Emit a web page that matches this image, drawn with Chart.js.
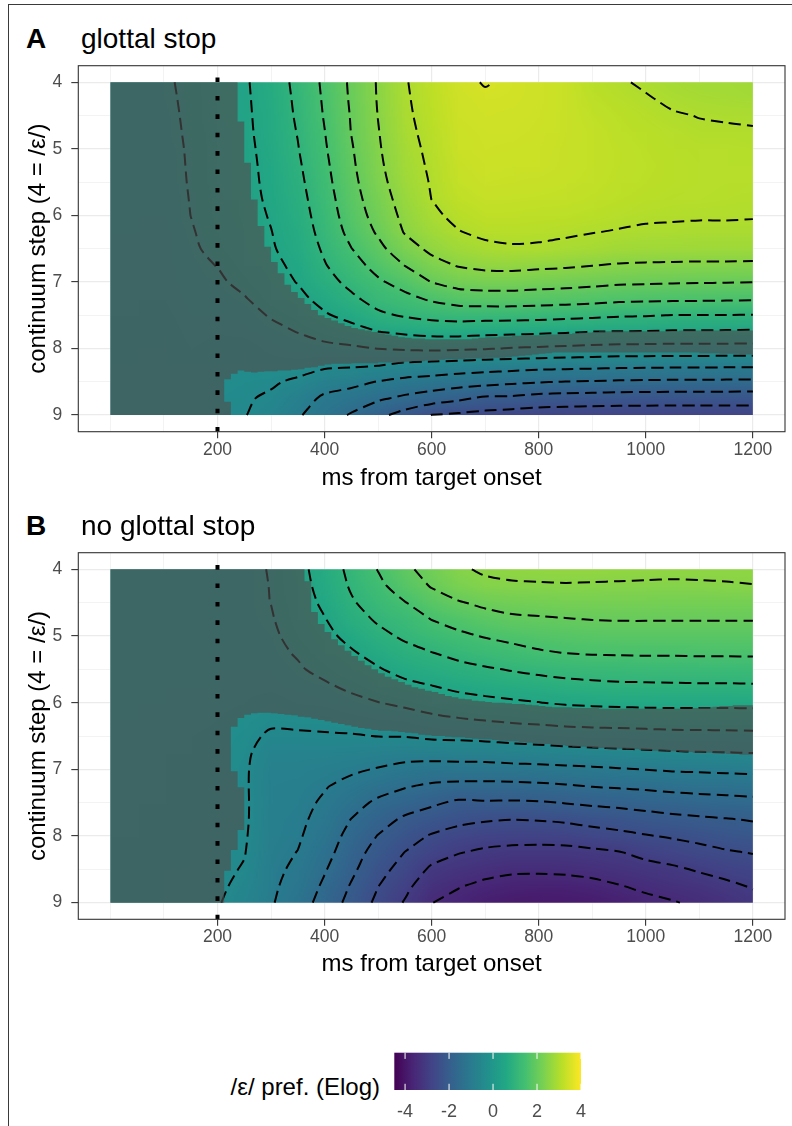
<!DOCTYPE html>
<html>
<head>
<meta charset="utf-8">
<script src="https://cdn.jsdelivr.net/npm/chart.js@4.4.1/dist/chart.umd.min.js"></script>
<style>
  html, body { margin: 0; padding: 0; background: #fff; }
  body { width: 792px; height: 1126px; position: relative; overflow: hidden;
         font-family: 'Liberation Sans', Arial, Helvetica, sans-serif; }
  .frame { position: absolute; left: 8px; top: 4px; width: 900px; height: 1300px;
           border-left: 1.5px solid #3a3a3a; border-top: 1.5px solid #3a3a3a; }
  canvas { position: absolute; left: 0; }
  .tag, .title, .legend-title { position: absolute; line-height: 1; color: #000; white-space: nowrap; }
  .tag { font-weight: bold; font-size: 28px; }
  .title { font-size: 28px; }
  .legend-title { font-size: 24px; text-align: right; }
</style>
</head>
<body>
<div class="frame"></div>

<div class="tag" style="left:26px; top:24.6px">A</div>
<div class="title" style="left:81px; top:24.6px">glottal stop</div>
<canvas id="panel-a" width="792" height="500" style="top:0"></canvas>

<div class="tag" style="left:26px; top:511.6px">B</div>
<div class="title" style="left:81px; top:511.6px">no glottal stop</div>
<canvas id="panel-b" width="792" height="500" style="top:486px"></canvas>

<div class="legend-title" style="right:412px; top:1074.7px">/ε/ pref. (Elog)</div>
<canvas id="colorbar" width="220" height="86" style="left:380px; top:1040px"></canvas>

<script>
// ============================================
// Elog preference surfaces (time x continuum step)
// ============================================

// model grid
const timeMs = [0, 50, 100, 150, 200, 250, 300, 350, 400, 450, 500, 550, 600,
                650, 700, 750, 800, 850, 900, 950, 1000, 1050, 1100, 1150, 1200];
const steps = [4, 4.25, 4.5, 4.75, 5, 5.25, 5.5, 5.75, 6, 6.25, 6.5, 6.75, 7,
               7.25, 7.5, 7.75, 8, 8.25, 8.5, 8.75, 9];

// /ε/ preference, one array per time point, step 4 (top) -> step 9 (bottom)
const prefGlottal = [
  [-0.12,-0.12,-0.13,-0.13,-0.14,-0.15,-0.16,-0.17,-0.18,-0.19,-0.20,-0.21,-0.22,-0.23,-0.25,-0.27,-0.29,-0.31,-0.33,-0.35,-0.37],
  [-0.10,-0.11,-0.12,-0.13,-0.14,-0.15,-0.16,-0.17,-0.18,-0.19,-0.20,-0.21,-0.22,-0.24,-0.26,-0.28,-0.30,-0.32,-0.34,-0.36,-0.38],
  [-0.06,-0.08,-0.10,-0.12,-0.15,-0.16,-0.17,-0.18,-0.19,-0.20,-0.21,-0.22,-0.24,-0.26,-0.28,-0.30,-0.32,-0.34,-0.36,-0.38,-0.40],
  [0.09,0.08,0.07,0.06,0.05,0.04,0.03,0.015,0.002,-0.03,-0.06,-0.09,-0.12,-0.15,-0.18,-0.22,-0.26,-0.30,-0.34,-0.38,-0.42],
  [0.27,0.26,0.24,0.23,0.22,0.21,0.20,0.19,0.17,0.14,0.10,0.01,-0.07,-0.13,-0.19,-0.24,-0.29,-0.33,-0.37,-0.41,-0.45],
  [0.44,0.43,0.42,0.41,0.39,0.38,0.37,0.36,0.34,0.31,0.28,0.20,0.11,-0.03,-0.13,-0.22,-0.30,-0.36,-0.41,-0.45,-0.48],
  [0.74,0.71,0.69,0.67,0.65,0.62,0.60,0.57,0.53,0.49,0.46,0.39,0.31,0.21,0.03,-0.10,-0.22,-0.33,-0.44,-0.57,-0.68],
  [1.12,1.09,1.06,1.02,0.98,0.93,0.88,0.83,0.78,0.73,0.67,0.60,0.52,0.38,0.22,0.01,-0.15,-0.30,-0.58,-0.80,-0.95],
  [1.59,1.56,1.53,1.49,1.45,1.40,1.35,1.29,1.23,1.16,1.07,0.97,0.82,0.65,0.45,0.17,-0.12,-0.41,-0.80,-1.08,-1.24],
  [2.08,2.06,2.03,2.01,1.96,1.92,1.87,1.81,1.74,1.64,1.49,1.30,1.13,0.91,0.64,0.33,-0.08,-0.44,-0.87,-1.22,-1.55],
  [2.54,2.53,2.51,2.48,2.45,2.41,2.35,2.27,2.18,2.06,1.87,1.67,1.43,1.19,0.91,0.49,0.01,-0.48,-1.02,-1.43,-1.87],
  [2.97,2.95,2.93,2.90,2.86,2.82,2.77,2.70,2.62,2.53,2.30,2.01,1.69,1.37,1.05,0.58,0.06,-0.61,-1.13,-1.60,-2.19],
  [3.20,3.18,3.15,3.12,3.09,3.06,3.03,3.005,2.91,2.78,2.60,2.34,2.01,1.57,1.15,0.65,0.09,-0.66,-1.19,-1.75,-2.51],
  [3.42,3.40,3.38,3.36,3.34,3.31,3.27,3.20,3.11,2.98,2.78,2.53,2.20,1.72,1.20,0.66,0.07,-0.71,-1.27,-1.91,-2.58],
  [3.52,3.45,3.42,3.40,3.38,3.36,3.33,3.28,3.20,3.09,2.90,2.61,2.25,1.77,1.19,0.62,0.03,-0.76,-1.33,-2.09,-2.65],
  [3.45,3.43,3.41,3.39,3.37,3.35,3.32,3.27,3.20,3.10,2.96,2.63,2.25,1.77,1.19,0.60,-0.03,-0.78,-1.41,-2.10,-2.72],
  [3.40,3.39,3.38,3.37,3.36,3.34,3.31,3.26,3.18,3.08,2.95,2.59,2.21,1.74,1.17,0.57,-0.06,-0.82,-1.47,-2.19,-2.76],
  [3.32,3.32,3.32,3.32,3.31,3.30,3.28,3.24,3.16,3.06,2.89,2.56,2.18,1.71,1.13,0.54,-0.10,-0.84,-1.51,-2.22,-2.78],
  [3.13,3.18,3.22,3.25,3.26,3.26,3.24,3.20,3.13,3.01,2.86,2.51,2.13,1.67,1.10,0.49,-0.13,-0.86,-1.53,-2.24,-2.80],
  [3.04,3.10,3.15,3.18,3.20,3.20,3.19,3.15,3.08,2.98,2.80,2.46,2.08,1.62,1.05,0.48,-0.16,-0.88,-1.56,-2.26,-2.80],
  [2.95,3.03,3.09,3.13,3.15,3.16,3.15,3.12,3.05,2.95,2.78,2.44,2.06,1.60,1.03,0.47,-0.17,-0.89,-1.57,-2.27,-2.80],
  [2.88,2.94,3.03,3.08,3.11,3.12,3.12,3.09,3.04,2.94,2.77,2.43,2.04,1.59,0.99,0.45,-0.18,-0.90,-1.58,-2.28,-2.80],
  [2.84,2.90,2.99,3.05,3.09,3.10,3.10,3.08,3.03,2.93,2.76,2.42,2.03,1.58,0.99,0.45,-0.18,-0.90,-1.58,-2.28,-2.80],
  [2.82,2.88,2.97,3.04,3.08,3.09,3.09,3.07,3.03,2.93,2.76,2.42,2.02,1.57,0.99,0.44,-0.18,-0.91,-1.59,-2.28,-2.79],
  [2.80,2.87,2.95,3.03,3.07,3.08,3.08,3.06,3.02,2.93,2.76,2.41,2.01,1.56,0.98,0.43,-0.19,-0.91,-1.60,-2.29,-2.78]
];

const prefNoGlottal = [
  [-0.12,-0.12,-0.13,-0.13,-0.14,-0.14,-0.15,-0.15,-0.16,-0.17,-0.18,-0.19,-0.20,-0.21,-0.22,-0.23,-0.24,-0.25,-0.26,-0.27,-0.28],
  [-0.12,-0.12,-0.13,-0.14,-0.14,-0.15,-0.16,-0.17,-0.18,-0.19,-0.20,-0.21,-0.22,-0.23,-0.24,-0.25,-0.26,-0.27,-0.28,-0.29,-0.30],
  [-0.11,-0.12,-0.13,-0.14,-0.15,-0.16,-0.17,-0.18,-0.19,-0.20,-0.22,-0.23,-0.24,-0.25,-0.26,-0.27,-0.28,-0.29,-0.31,-0.32,-0.34],
  [-0.10,-0.11,-0.12,-0.13,-0.15,-0.16,-0.18,-0.19,-0.21,-0.22,-0.24,-0.25,-0.27,-0.28,-0.29,-0.30,-0.32,-0.33,-0.35,-0.37,-0.40],
  [-0.10,-0.10,-0.11,-0.12,-0.13,-0.15,-0.17,-0.19,-0.21,-0.24,-0.27,-0.30,-0.32,-0.33,-0.34,-0.35,-0.36,-0.38,-0.40,-0.43,-0.47],
  [-0.09,-0.10,-0.11,-0.12,-0.14,-0.16,-0.19,-0.22,-0.26,-0.31,-0.37,-0.42,-0.44,-0.44,-0.43,-0.43,-0.45,-0.48,-0.53,-0.60,-0.68],
  [0.02,0.01,0.005,-0.03,-0.07,-0.11,-0.16,-0.22,-0.30,-0.41,-0.57,-0.70,-0.77,-0.80,-0.82,-0.84,-0.86,-0.88,-0.90,-0.93,-0.96],
  [0.35,0.31,0.26,0.20,0.13,0.04,-0.05,-0.15,-0.26,-0.39,-0.56,-0.70,-0.78,-0.83,-0.87,-0.91,-0.95,-1.01,-1.08,-1.16,-1.26],
  [0.72,0.67,0.59,0.48,0.37,0.25,0.12,-0.06,-0.21,-0.37,-0.54,-0.72,-0.86,-0.97,-1.06,-1.14,-1.23,-1.33,-1.46,-1.58,-1.69],
  [1.12,1.05,0.95,0.81,0.64,0.45,0.28,0.09,-0.12,-0.32,-0.53,-0.73,-0.93,-1.13,-1.32,-1.51,-1.66,-1.79,-1.90,-2.04,-2.16],
  [1.52,1.38,1.22,1.06,0.88,0.68,0.46,0.24,-0.01,-0.25,-0.49,-0.77,-1.03,-1.30,-1.59,-1.80,-2.02,-2.19,-2.34,-2.49,-2.61],
  [1.90,1.75,1.48,1.25,1.07,0.86,0.66,0.38,0.09,-0.20,-0.48,-0.82,-1.13,-1.46,-1.75,-2.08,-2.32,-2.51,-2.68,-2.87,-3.04],
  [2.18,2.03,1.78,1.51,1.26,0.99,0.76,0.49,0.20,-0.10,-0.42,-0.80,-1.19,-1.57,-1.92,-2.24,-2.54,-2.80,-3.08,-3.32,-3.49],
  [2.45,2.29,1.96,1.67,1.41,1.12,0.87,0.61,0.31,-0.03,-0.40,-0.79,-1.18,-1.62,-2.08,-2.37,-2.70,-2.98,-3.24,-3.47,-3.65],
  [2.55,2.42,2.10,1.81,1.53,1.25,0.95,0.67,0.39,0.03,-0.37,-0.77,-1.18,-1.63,-2.05,-2.45,-2.78,-3.09,-3.35,-3.60,-3.80],
  [2.60,2.45,2.17,1.92,1.62,1.35,1.03,0.74,0.44,0.09,-0.32,-0.73,-1.15,-1.62,-2.06,-2.49,-2.82,-3.14,-3.42,-3.68,-3.88],
  [2.62,2.46,2.20,1.95,1.70,1.45,1.11,0.79,0.49,0.13,-0.28,-0.70,-1.13,-1.59,-2.04,-2.47,-2.83,-3.15,-3.42,-3.72,-3.92],
  [2.63,2.47,2.22,1.98,1.74,1.51,1.17,0.85,0.55,0.17,-0.23,-0.66,-1.10,-1.54,-1.98,-2.42,-2.80,-3.15,-3.40,-3.70,-3.90],
  [2.63,2.46,2.22,2.01,1.78,1.54,1.21,0.89,0.58,0.20,-0.21,-0.63,-1.07,-1.48,-1.92,-2.33,-2.71,-3.10,-3.35,-3.63,-3.85],
  [2.62,2.45,2.22,2.02,1.79,1.55,1.23,0.92,0.60,0.22,-0.20,-0.60,-1.03,-1.44,-1.87,-2.27,-2.62,-3.03,-3.27,-3.52,-3.75],
  [2.61,2.44,2.22,2.02,1.80,1.56,1.24,0.93,0.61,0.24,-0.18,-0.57,-0.99,-1.40,-1.81,-2.19,-2.53,-2.87,-3.17,-3.41,-3.62],
  [2.60,2.43,2.21,2.02,1.80,1.56,1.24,0.94,0.62,0.25,-0.15,-0.54,-0.95,-1.35,-1.75,-2.12,-2.45,-2.76,-3.08,-3.32,-3.53],
  [2.59,2.45,2.21,2.02,1.80,1.57,1.25,0.95,0.62,0.25,-0.14,-0.52,-0.93,-1.32,-1.70,-2.07,-2.37,-2.65,-2.95,-3.22,-3.42],
  [2.58,2.47,2.21,2.02,1.80,1.57,1.25,0.95,0.62,0.25,-0.13,-0.51,-0.91,-1.29,-1.67,-2.02,-2.28,-2.55,-2.83,-3.10,-3.30],
  [2.58,2.49,2.21,2.02,1.80,1.57,1.26,0.96,0.62,0.26,-0.12,-0.49,-0.89,-1.26,-1.63,-1.97,-2.21,-2.48,-2.72,-2.96,-3.15]
];

// non-significant regions: one entry per 12.5 ms column, pairs of [from step, to step]
const maskColMs = 12.5;
const nsGlottal = [
  [4,9],[4,9],[4,9],[4,9],[4,9],[4,9],[4,9],[4,9],[4,9],[4,9],[4,9],[4,9],
  [4,9],[4,9],[4,9],[4,9],[4,9],[4,8.46,8.8,9],[4,8.38],[4.59,8.33],
  [5.21,8.35],[5.76,8.36],[6.16,8.35],[6.47,8.34],[6.70,8.34],[6.87,8.33],[7.04,8.33],[7.15,8.32],
  [7.24,8.31],[7.33,8.29],[7.42,8.28],[7.50,8.26],[7.54,8.24],[7.58,8.23],[7.62,8.23],[7.66,8.23],
  [7.69,8.22],[7.71,8.22],[7.73,8.22],[7.75,8.22],[7.77,8.21],[7.79,8.21],[7.81,8.21],[7.83,8.21],
  [7.84,8.20],[7.85,8.19],[7.85,8.19],[7.86,8.18],[7.86,8.18],[7.86,8.17],[7.86,8.16],[7.86,8.16],
  [7.86,8.16],[7.86,8.15],[7.85,8.15],[7.84,8.15],[7.83,8.14],[7.83,8.14],[7.82,8.14],[7.82,8.13],
  [7.81,8.12],[7.81,8.11],[7.80,8.10],[7.80,8.09],[7.80,8.08],[7.79,8.07],[7.79,8.06],[7.78,8.06],
  [7.78,8.06],[7.77,8.06],[7.76,8.06],[7.76,8.06],[7.75,8.06],[7.74,8.06],[7.74,8.06],[7.74,8.06],
  [7.74,8.06],[7.74,8.06],[7.74,8.06],[7.74,8.06],[7.74,8.06],[7.74,8.06],[7.74,8.06],[7.74,8.06],
  [7.74,8.06],[7.73,8.06],[7.73,8.06],[7.73,8.06],[7.73,8.07],[7.73,8.07],[7.73,8.07],[7.73,8.08],
  [7.73,8.08],[7.73,8.08],[7.73,8.09],[7.73,8.09]
];
const nsNoGlottal = [
  [4,9],[4,9],[4,9],[4,9],[4,9],[4,9],[4,9],[4,9],[4,9],[4,9],[4,9],[4,9],
  [4,9],[4,9],[4,9],[4,9],[4,9],[4,8.52],[4,6.36,7.03,8.21],[4,6.23,7.27,7.91],
  [4,6.18],[4,6.16],[4,6.15],[4,6.15],[4,6.16],[4,6.17],[4,6.18],[4,6.19],
  [4,6.21],[4.18,6.22],[4.64,6.24],[4.82,6.26],[4.94,6.28],[5.05,6.30],[5.14,6.32],[5.22,6.34],
  [5.30,6.36],[5.37,6.38],[5.44,6.39],[5.50,6.41],[5.56,6.42],[5.61,6.42],[5.65,6.43],[5.69,6.44],
  [5.73,6.45],[5.77,6.46],[5.79,6.48],[5.82,6.49],[5.84,6.50],[5.87,6.50],[5.90,6.51],[5.92,6.52],
  [5.94,6.52],[5.95,6.53],[5.97,6.54],[5.98,6.55],[5.99,6.55],[6.00,6.56],[6.00,6.57],[6.01,6.58],
  [6.02,6.58],[6.02,6.59],[6.03,6.60],[6.04,6.61],[6.05,6.62],[6.06,6.62],[6.07,6.63],[6.07,6.64],
  [6.07,6.65],[6.08,6.66],[6.08,6.66],[6.08,6.67],[6.08,6.68],[6.09,6.68],[6.09,6.69],[6.09,6.69],
  [6.09,6.69],[6.09,6.70],[6.09,6.70],[6.09,6.71],[6.09,6.71],[6.09,6.72],[6.09,6.72],[6.09,6.73],
  [6.09,6.73],[6.09,6.74],[6.09,6.74],[6.08,6.75],[6.07,6.75],[6.07,6.75],[6.06,6.76],[6.05,6.76],
  [6.05,6.77],[6.04,6.77],[6.04,6.78],[6.04,6.78]
];

const contourLevels = [-3.5, -3, -2.5, -2, -1.5, -1, -0.5, 0, 0.5, 1, 1.5, 2, 2.5, 3, 3.5];
const targetOnsetMs = 200;

// axes
const xGridMs = [0, 100, 200, 300, 400, 500, 600, 700, 800, 900, 1000, 1100, 1200];
const xLabelMs = [200, 400, 600, 800, 1000, 1200];
const yGridSteps = [4, 4.5, 5, 5.5, 6, 6.5, 7, 7.5, 8, 8.5, 9];
const yLabelSteps = [4, 5, 6, 7, 8, 9];

// colour scale
const colorLimits = [-4.49, 4.0];
const colorTicks = [-4, -2, 0, 2, 4];

const VIRIDIS = [[68,1,84],[72,37,118],[65,68,135],[53,96,141],[42,120,142],[33,144,140],
                 [34,168,132],[67,191,113],[122,209,81],[187,223,39],[253,231,37]];

Chart.defaults.font.family = "'Liberation Sans', Arial, Helvetica, sans-serif";

function viridisRGB(v) {
  let t = (v - colorLimits[0]) / (colorLimits[1] - colorLimits[0]);
  t = Math.max(0, Math.min(1, t)) * 10;
  const i = Math.min(9, Math.floor(t));
  const f = t - i;
  return VIRIDIS[i].map((c, k) => Math.round(c + f * (VIRIDIS[i + 1][k] - c)));
}

// marching squares on the model grid, chained into polylines
function contourLines(z, level) {
  const pts = {};
  const segs = [];
  const edge = (key, i0, j0, i1, j1) => {
    if (!pts[key]) {
      const a = z[i0][j0], b = z[i1][j1];
      const t = (level - a) / (b - a);
      pts[key] = {
        x: timeMs[i0] + t * (timeMs[i1] - timeMs[i0]),
        y: steps[j0] + t * (steps[j1] - steps[j0])
      };
    }
    return key;
  };
  for (let i = 0; i < timeMs.length - 1; i++) {
    for (let j = 0; j < steps.length - 1; j++) {
      const a = z[i][j], b = z[i + 1][j], c = z[i + 1][j + 1], d = z[i][j + 1];
      const ia = a >= level, ib = b >= level, ic = c >= level, id = d >= level;
      const cross = [ia !== ib, ib !== ic, id !== ic, ia !== id];
      const keys = [
        () => edge(`h${i}_${j}`, i, j, i + 1, j),
        () => edge(`v${i + 1}_${j}`, i + 1, j, i + 1, j + 1),
        () => edge(`h${i}_${j + 1}`, i, j + 1, i + 1, j + 1),
        () => edge(`v${i}_${j}`, i, j, i, j + 1)
      ];
      const hit = [0, 1, 2, 3].filter(k => cross[k]);
      if (hit.length === 2) {
        segs.push([keys[hit[0]](), keys[hit[1]]()]);
      } else if (hit.length === 4) {
        const center = (a + b + c + d) / 4 >= level;
        if (ia !== center) {
          segs.push([keys[3](), keys[0]()]);
          segs.push([keys[1](), keys[2]()]);
        } else {
          segs.push([keys[0](), keys[1]()]);
          segs.push([keys[2](), keys[3]()]);
        }
      }
    }
  }

  const adj = {};
  segs.forEach((s, k) => s.forEach(key => (adj[key] = adj[key] || []).push(k)));
  const used = new Array(segs.length).fill(false);
  const lines = [];
  const starts = Object.keys(adj).sort((p, q) => adj[p].length - adj[q].length);
  for (const start of starts) {
    for (const k of adj[start]) {
      if (used[k]) continue;
      const chain = [start];
      let cur = start, seg = k;
      while (seg !== undefined) {
        used[seg] = true;
        const next = segs[seg][0] === cur ? segs[seg][1] : segs[seg][0];
        chain.push(next);
        cur = next;
        seg = adj[cur].find(s => !used[s]);
      }
      lines.push(chain.map(key => pts[key]));
    }
  }
  return lines;
}

function fieldPlugin(values, nsMask) {
  return {
    id: 'prefField',
    beforeDatasetsDraw(chart) {
      const { ctx, scales: { x, y } } = chart;
      const nx = timeMs.length, ny = steps.length;
      const off = document.createElement('canvas');
      off.width = nx;
      off.height = ny;
      const octx = off.getContext('2d');
      const img = octx.createImageData(nx, ny);
      for (let i = 0; i < nx; i++) {
        for (let j = 0; j < ny; j++) {
          const [r, g, b] = viridisRGB(values[i][j]);
          const p = (j * nx + i) * 4;
          img.data[p] = r; img.data[p + 1] = g; img.data[p + 2] = b; img.data[p + 3] = 255;
        }
      }
      octx.putImageData(img, 0, 0);

      const x0 = x.getPixelForValue(timeMs[0]), x1 = x.getPixelForValue(timeMs[nx - 1]);
      const y0 = y.getPixelForValue(steps[0]), y1 = y.getPixelForValue(steps[ny - 1]);
      const cw = (x1 - x0) / (nx - 1), ch = (y1 - y0) / (ny - 1);
      ctx.save();
      ctx.beginPath();
      ctx.rect(x0, y0, x1 - x0, y1 - y0);
      ctx.clip();
      ctx.imageSmoothingEnabled = true;
      ctx.imageSmoothingQuality = 'low';
      ctx.drawImage(off, x0 - cw / 2, y0 - ch / 2, cw * nx, ch * ny);
      ctx.restore();
    },
    afterDatasetsDraw(chart) {
      const { ctx, chartArea, scales: { x, y } } = chart;
      ctx.save();

      // non-significant shading (one path, so no seams between columns)
      ctx.beginPath();
      nsMask.forEach((spans, k) => {
        const xa = x.getPixelForValue(k * maskColMs);
        const xb = x.getPixelForValue((k + 1) * maskColMs);
        for (let s = 0; s < spans.length; s += 2) {
          const ya = y.getPixelForValue(spans[s]);
          const yb = y.getPixelForValue(spans[s + 1]);
          ctx.rect(xa, ya, xb - xa, yb - ya);
        }
      });
      ctx.fillStyle = 'rgba(79, 79, 79, 0.64)';
      ctx.fill();

      // target onset
      const xv = x.getPixelForValue(targetOnsetMs);
      ctx.beginPath();
      ctx.setLineDash([4.6, 13.8]);
      ctx.lineCap = 'butt';
      ctx.lineWidth = 4;
      ctx.strokeStyle = '#000';
      ctx.moveTo(xv, chartArea.bottom);
      ctx.lineTo(xv, chartArea.top);
      ctx.stroke();

      // panel border
      ctx.setLineDash([]);
      ctx.lineWidth = 1.1;
      ctx.strokeStyle = '#333333';
      ctx.strokeRect(chartArea.left, chartArea.top, chartArea.width, chartArea.height);
      ctx.restore();
    }
  };
}

function makePanel(canvasId, values, nsMask, padTop, xAxisHeight) {
  const datasets = [];
  contourLevels.forEach(level => {
    contourLines(values, level).forEach(line => {
      datasets.push({
        data: line,
        showLine: true,
        borderColor: '#000000',
        borderWidth: 2,
        borderDash: [12, 6],
        pointRadius: 0,
        tension: 0.3,
        fill: false
      });
    });
  });

  const isMajorX = v => xLabelMs.includes(v);
  const isMajorY = v => yLabelSteps.includes(v);

  return new Chart(document.getElementById(canvasId), {
    type: 'scatter',
    data: { datasets },
    options: {
      responsive: false,
      animation: false,
      events: [],
      layout: { padding: { left: 0, right: 7, top: padTop, bottom: 0 } },
      plugins: { legend: { display: false }, tooltip: { enabled: false } },
      scales: {
        x: {
          type: 'linear',
          min: -60,
          max: 1260,
          afterBuildTicks: axis => { axis.ticks = xGridMs.map(v => ({ value: v })); },
          afterFit: axis => { axis.height = xAxisHeight; },
          ticks: {
            autoSkip: false,
            maxRotation: 0,
            padding: 1,
            color: '#4D4D4D',
            font: { size: 17.5 },
            callback: v => (isMajorX(v) ? String(v) : '')
          },
          grid: {
            color: '#EBEBEB',
            lineWidth: c => (isMajorX(c.tick.value) ? 1.2 : 0.6),
            tickColor: c => (isMajorX(c.tick.value) ? '#333333' : 'rgba(0,0,0,0)'),
            tickLength: 6.5,
            tickWidth: 1.1
          },
          border: { display: false },
          title: {
            display: true,
            text: 'ms from target onset',
            color: '#000',
            font: { size: 24 },
            padding: { top: 0, bottom: 7.6 }
          }
        },
        y: {
          type: 'linear',
          reverse: true,
          min: 3.75,
          max: 9.25,
          afterBuildTicks: axis => { axis.ticks = yGridSteps.map(v => ({ value: v })); },
          afterFit: axis => { axis.width = 78.3; },
          ticks: {
            autoSkip: false,
            padding: 9,
            color: '#4D4D4D',
            font: { size: 17.5 },
            callback: v => (isMajorY(v) ? String(v) : '')
          },
          grid: {
            color: '#EBEBEB',
            lineWidth: c => (isMajorY(c.tick.value) ? 1.2 : 0.6),
            tickColor: c => (isMajorY(c.tick.value) ? '#333333' : 'rgba(0,0,0,0)'),
            tickLength: 7,
            tickWidth: 1.1
          },
          border: { display: false },
          title: {
            display: true,
            text: 'continuum step (4 = /ε/)',
            color: '#000',
            font: { size: 24 },
            padding: { top: 24, bottom: 0 }
          }
        }
      }
    },
    plugins: [fieldPlugin(values, nsMask)]
  });
}

const colorbarPlugin = {
  id: 'colorbar',
  beforeDatasetsDraw(chart) {
    const { ctx, chartArea: a, scales: { x } } = chart;
    const left = x.getPixelForValue(colorLimits[0]);
    const right = x.getPixelForValue(colorLimits[1]);
    const grad = ctx.createLinearGradient(left, 0, right, 0);
    VIRIDIS.forEach((c, k) => grad.addColorStop(k / (VIRIDIS.length - 1), `rgb(${c[0]},${c[1]},${c[2]})`));
    ctx.save();
    ctx.fillStyle = grad;
    ctx.fillRect(left, a.top, right - left, a.height);
    ctx.strokeStyle = '#ffffff';
    ctx.lineWidth = 1;
    const tick = a.height / 6;
    colorTicks.forEach(v => {
      const px = x.getPixelForValue(v);
      ctx.beginPath();
      ctx.moveTo(px, a.top);
      ctx.lineTo(px, a.top + tick);
      ctx.moveTo(px, a.bottom - tick);
      ctx.lineTo(px, a.bottom);
      ctx.stroke();
    });
    ctx.restore();
  }
};

function makeColorbar() {
  return new Chart(document.getElementById('colorbar'), {
    type: 'scatter',
    data: { datasets: [] },
    options: {
      responsive: false,
      animation: false,
      events: [],
      layout: { padding: { left: 14.3, right: 19, top: 12.7, bottom: 0 } },
      plugins: { legend: { display: false }, tooltip: { enabled: false } },
      scales: {
        x: {
          type: 'linear',
          min: colorLimits[0],
          max: colorLimits[1],
          afterBuildTicks: axis => { axis.ticks = colorTicks.map(v => ({ value: v })); },
          afterFit: axis => { axis.height = 36; },
          ticks: {
            autoSkip: false,
            maxRotation: 0,
            padding: 11,
            color: '#4D4D4D',
            font: { size: 18 },
            callback: v => String(v)
          },
          grid: { display: false, drawTicks: false },
          border: { display: false }
        },
        y: { display: false, min: 0, max: 1 }
      }
    },
    plugins: [colorbarPlugin]
  });
}

makePanel('panel-a', prefGlottal, nsGlottal, 65.7, 68.3);
makePanel('panel-b', prefNoGlottal, nsNoGlottal, 66.7, 66.7);
makeColorbar();
</script>
</body>
</html>
